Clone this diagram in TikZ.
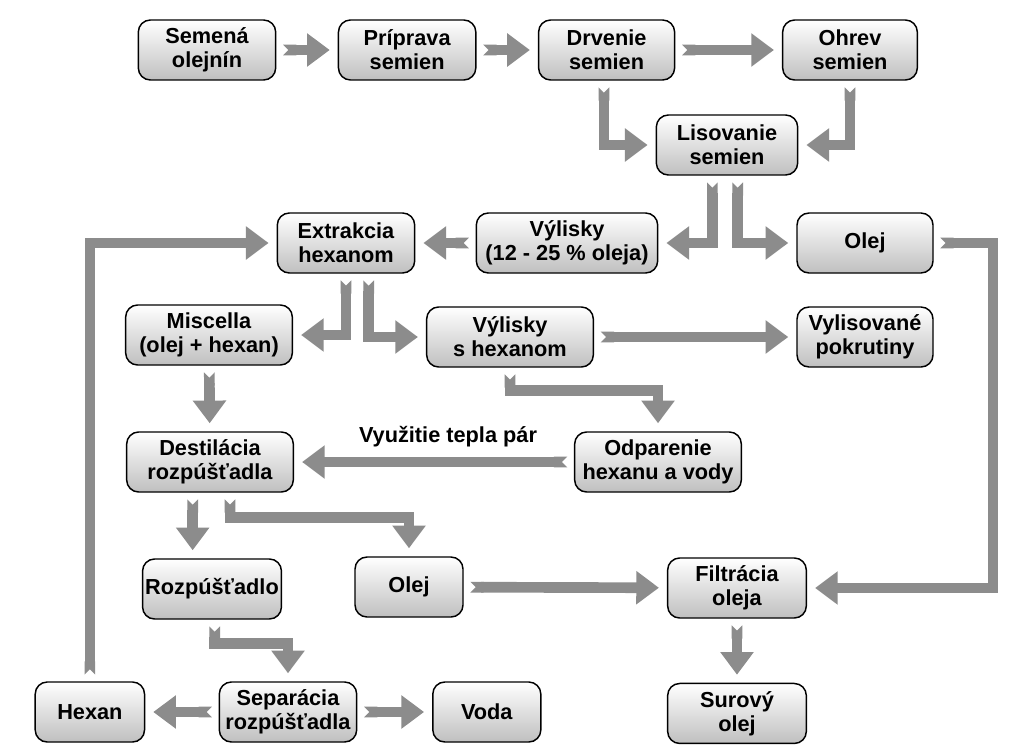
\documentclass[tikz,border=0pt]{standalone}
\usepackage{fontspec}
\setmainfont{Liberation Sans}
\usepackage{tikz}
\usetikzlibrary{arrows.meta,positioning}
\definecolor{flowgray}{HTML}{8C8C8C}

\begin{document}
\begin{tikzpicture}[x=0.75pt,y=-0.75pt,
  stage/.style={draw=black, line width=1.1pt, rounded corners=9pt,
    top color=white, bottom color=gray!50, align=center,
    inner sep=2pt, minimum width=103pt, minimum height=45pt,
    font=\bfseries\fontsize{16.3}{18}\selectfont},
  flow/.style={draw=flowgray, line width=8pt,
    arrows={Triangle Cap[reversed]-Triangle[length=17pt,width=24pt]},
    shorten <=5pt, shorten >=6pt},
  note/.style={font=\bfseries\fontsize{16.3}{18}\selectfont}]
\path[use as bounding box, fill=white] (0,0) rectangle (1024,756);

% lisovanie
\node[stage] (semena) at (207,50) {Semená\\olejnín};
\node[stage, right=46pt of semena] (priprava) {Príprava\\semien};
\node[stage, minimum width=102pt, right=46pt of priprava] (drvenie) {Drvenie\\semien};
\node[stage, minimum width=101pt] (ohrev) at (850,50) {Ohrev\\semien};
\node[stage, minimum width=106pt] (lisovanie) at (727,145) {Lisovanie\\semien};
\node[stage, minimum width=136pt] (vylisky) at (567,243) {Výlisky\\(12 - 25 \% oleja)};
\node[stage, minimum width=102pt] (olej1) at (865,243) {Olej};
% extrakcia
\node[stage] (extrakcia) at (346,243) {Extrakcia\\hexanom};
\node[stage, minimum width=125pt] (miscella) at (209,335) {Miscella\\(olej + hexan)};
\node[stage, minimum width=125pt] (vyliskyhex) at (510,337) {Výlisky\\s hexanom};
\node[stage, minimum width=102pt] (pokrutiny) at (865,337) {Vylisované\\pokrutiny};
\node[stage, minimum width=125pt] (destilacia) at (210,462) {Destilácia\\rozpúšťadla};
\node[stage, minimum width=125pt] (odparenie) at (658,462) {Odparenie\\hexanu a vody};
\node[stage, minimum width=103.5pt] (rozpustadlo) at (212,589) {Rozpúšťadlo};
\node[stage, minimum width=81pt] (olej2) at (409,587) {Olej};
\node[stage, minimum width=104pt] (filtracia) at (737,588) {Filtrácia\\oleja};
\node[stage, minimum width=104pt, below=48pt of filtracia] (surovy) {Surový\\olej};
\node[stage] (separacia) at (288,712) {Separácia\\rozpúšťadla};
\node[stage, minimum width=82pt, left=55pt of separacia] (hexan) {Hexan};
\node[stage, minimum width=81pt, right=56pt of separacia] (voda) {Voda};

\coordinate (obtok) at (993,400);

\draw[flow] (semena) -- (priprava);
\draw[flow] (priprava) -- (drvenie);
\draw[flow] (drvenie) -- (ohrev);
\draw[flow] ([xshift=-2pt]drvenie.south) |- (lisovanie);
\draw[flow] (ohrev.south) |- (lisovanie);
\draw[flow] ([xshift=-11pt]lisovanie.south) |- (vylisky);
\draw[flow] ([xshift=8pt]lisovanie.south) |- (olej1);
\draw[flow] (vylisky) -- (extrakcia);
\draw[flow] (olej1) -| (obtok) |- (filtracia);
\draw[flow] (hexan) |- (extrakcia);
\draw[flow] (extrakcia.south) |- (miscella);
\draw[flow] ([xshift=17pt]extrakcia.south) |- (vyliskyhex);
\draw[flow] (vyliskyhex) -- (pokrutiny);
\draw[flow] (vyliskyhex.south) -- ++(0,23) -| (odparenie.north);
\draw[flow] (miscella) -- (destilacia);
\draw[flow] (odparenie) -- node[note, pos=0.45, above=4pt] {Využitie tepla pár} (destilacia);
\draw[flow] ([xshift=-13pt]destilacia.south) -- ([xshift=-13pt]destilacia.south |- rozpustadlo.north);
\draw[flow] ([xshift=15pt]destilacia.south) -- ++(0,25) -| (olej2.north);
\draw[flow] (olej2) -- (filtracia);
\draw[flow] ([xshift=2pt]rozpustadlo.south) -- ++(0,24) -| (separacia.north);
\draw[flow] (separacia) -- (hexan);
\draw[flow] (separacia) -- (voda);
\draw[flow] (filtracia) -- (surovy);
\end{tikzpicture}
\end{document}
